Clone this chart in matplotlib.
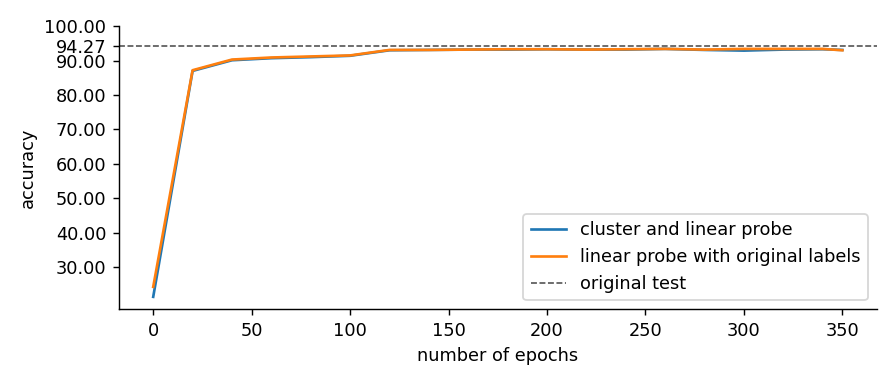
import matplotlib
matplotlib.use("Agg")
import matplotlib.pyplot as plt

epochs = [0, 20, 40, 60, 80, 100, 120, 140, 160, 180, 200, 220, 240, 260, 280, 300, 320, 340, 350]
cluster_acc = [21.3, 87.0, 90.1, 90.7, 91.0, 91.4, 93.0, 93.1, 93.2, 93.2, 93.3, 93.2, 93.2, 93.4, 93.1, 92.9, 93.2, 93.3, 93.1]
orig_acc = [24.2, 87.2, 90.3, 90.9, 91.2, 91.5, 93.1, 93.1, 93.2, 93.3, 93.3, 93.2, 93.3, 93.4, 93.2, 93.4, 93.4, 93.4, 93.0]
original_test = 94.27
yticks = [30, 40, 50, 60, 70, 80, 90, 94.27, 100]

fig, ax = plt.subplots(figsize=(7, 3), dpi=128)
ax.plot(epochs, cluster_acc, color="#1f77b4", label="cluster and linear probe")
ax.plot(epochs, orig_acc, color="#ff7f0e", label="linear probe with original labels")
ax.axhline(original_test, color="0.3", linestyle="--", linewidth=0.9, label="original test")
ax.set_ylim(top=100)
ax.set_yticks(yticks)
ax.set_yticklabels([f"{v:.2f}" for v in yticks])
ax.set_xlabel("number of epochs")
ax.set_ylabel("accuracy")
ax.spines["top"].set_visible(False)
ax.spines["right"].set_visible(False)
ax.legend(loc="lower right")
fig.tight_layout()
fig.savefig("out.png", dpi=128)
